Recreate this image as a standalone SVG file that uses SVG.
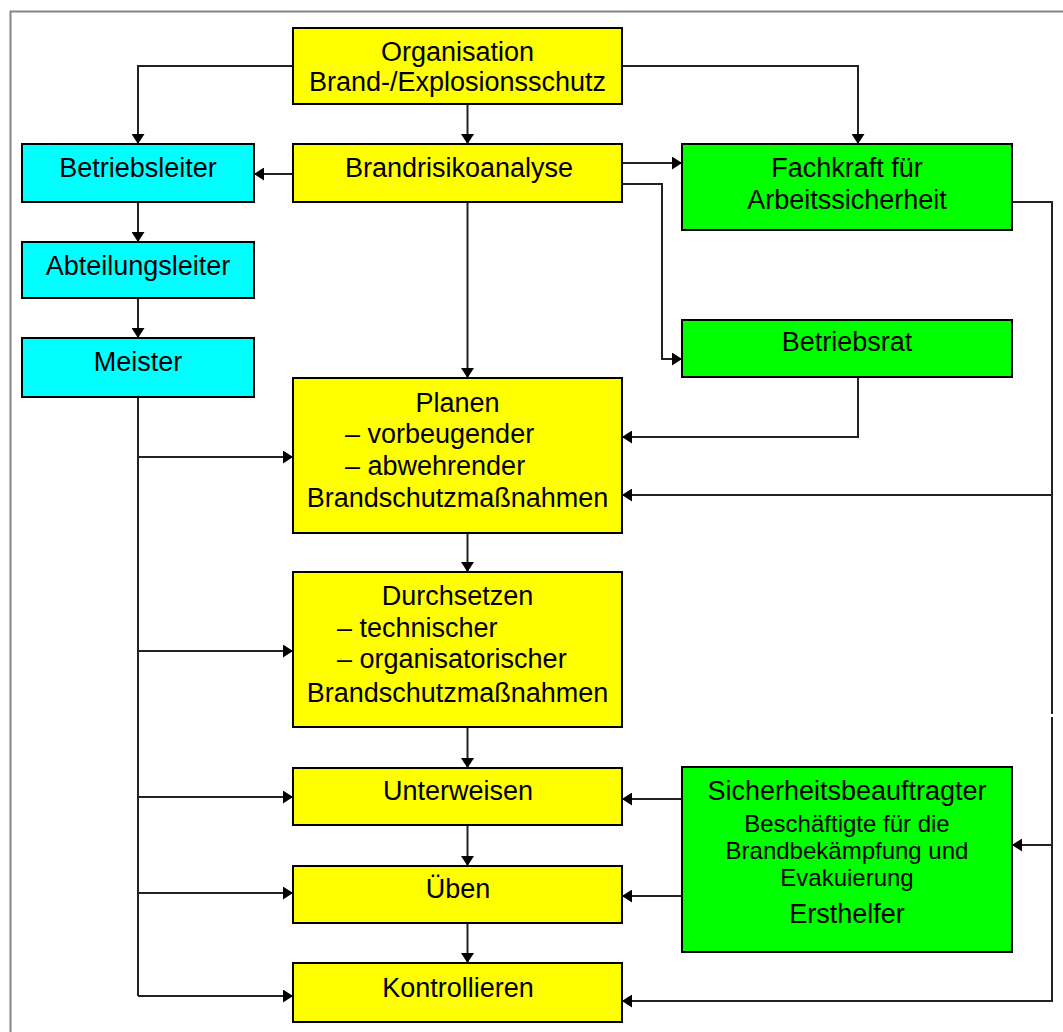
<svg xmlns="http://www.w3.org/2000/svg" width="1063" height="1032" viewBox="0 0 1063 1032">
<defs>
<marker id="ah" markerUnits="userSpaceOnUse" markerWidth="10" markerHeight="13" refX="10" refY="6.5" orient="auto">
<path d="M0,0 L10,6.5 L0,13 z" fill="#000"/>
</marker>
<style>
.box{stroke:#000;stroke-width:2}
.y{fill:#ffff00}
.c{fill:#00ffff}
.g{fill:#00ff00}
text{font-family:"Liberation Sans",Arial,sans-serif;font-size:27px;fill:#000}
.m{text-anchor:middle}
.s{font-size:24px}
.con path{fill:none;stroke:#222;stroke-width:2}
.arr{marker-end:url(#ah)}
</style>
</defs>
<rect width="1063" height="1032" fill="#fff"/>
<path d="M10.5,1032 V11.5 H1063" fill="none" stroke="#858585" stroke-width="2"/>

<g class="con">
<path class="arr" d="M293,66 H138 V144"/>
<path class="arr" d="M622,66 H858 V144"/>
<path class="arr" d="M467.5,104 V144"/>
<path class="arr" d="M293,174 H254"/>
<path class="arr" d="M622,163 H682"/>
<path class="arr" d="M622,184 H662 V359 H682"/>
<path class="arr" d="M138,202 V242"/>
<path class="arr" d="M138,298 V338"/>
<path d="M138,397 V996"/>
<path class="arr" d="M138,457 H293"/>
<path class="arr" d="M138,651 H293"/>
<path class="arr" d="M138,797 H293"/>
<path class="arr" d="M138,893 H293"/>
<path class="arr" d="M138,996 H293"/>
<path class="arr" d="M467.5,202 V378"/>
<path class="arr" d="M467.5,533 V572"/>
<path class="arr" d="M467.5,727 V768"/>
<path class="arr" d="M467.5,825 V866"/>
<path class="arr" d="M467.5,923 V963"/>
<path class="arr" d="M858,377 V437 H622"/>
<path d="M1012,202 H1052 V714"/>
<path class="arr" d="M1052,717 V1001 H622"/>
<path class="arr" d="M1052,495 H622"/>
<path class="arr" d="M1052,845 H1012"/>
<path class="arr" d="M682,799 H622"/>
<path class="arr" d="M682,896 H622"/>
</g>

<g id="organisation">
<rect class="box y" x="293" y="28" width="329" height="76"/>
<text class="m" x="457.5" y="61">Organisation</text>
<text class="m" x="457.5" y="91">Brand-/Explosionsschutz</text>
</g>
<g id="betriebsleiter">
<rect class="box c" x="22" y="144" width="232" height="58"/>
<text class="m" x="138" y="177">Betriebsleiter</text>
</g>
<g id="abteilungsleiter">
<rect class="box c" x="22" y="242" width="232" height="56"/>
<text class="m" x="138" y="275">Abteilungsleiter</text>
</g>
<g id="meister">
<rect class="box c" x="22" y="338" width="232" height="59"/>
<text class="m" x="138" y="371">Meister</text>
</g>
<g id="brandrisikoanalyse">
<rect class="box y" x="293" y="144" width="329" height="58"/>
<text class="m" x="459" y="177">Brandrisikoanalyse</text>
</g>
<g id="fachkraft">
<rect class="box g" x="682" y="144" width="330" height="86"/>
<text class="m" x="847" y="177">Fachkraft für</text>
<text class="m" x="847" y="209">Arbeitssicherheit</text>
</g>
<g id="betriebsrat">
<rect class="box g" x="682" y="320" width="330" height="57"/>
<text class="m" x="847" y="351">Betriebsrat</text>
</g>
<g id="planen">
<rect class="box y" x="293" y="378" width="329" height="155"/>
<text class="m" x="457.5" y="412">Planen</text>
<text x="345" y="443">– vorbeugender</text>
<text x="345" y="475">– abwehrender</text>
<text class="m" x="457.5" y="507">Brandschutzmaßnahmen</text>
</g>
<g id="durchsetzen">
<rect class="box y" x="293" y="572" width="329" height="155"/>
<text class="m" x="457.5" y="605">Durchsetzen</text>
<text x="337" y="637">– technischer</text>
<text x="337" y="668">– organisatorischer</text>
<text class="m" x="457.5" y="702">Brandschutzmaßnahmen</text>
</g>
<g id="unterweisen">
<rect class="box y" x="293" y="768" width="329" height="57"/>
<text class="m" x="458" y="800">Unterweisen</text>
</g>
<g id="ueben">
<rect class="box y" x="293" y="866" width="329" height="57"/>
<text class="m" x="458" y="898">Üben</text>
</g>
<g id="kontrollieren">
<rect class="box y" x="293" y="963" width="329" height="59"/>
<text class="m" x="458" y="997">Kontrollieren</text>
</g>
<g id="sicherheitsbeauftragter">
<rect class="box g" x="682" y="767" width="330" height="185"/>
<text class="m" x="847" y="800">Sicherheitsbeauftragter</text>
<text class="m s" x="847" y="832">Beschäftigte für die</text>
<text class="m s" x="847" y="859">Brandbekämpfung und</text>
<text class="m s" x="847" y="886">Evakuierung</text>
<text class="m" x="847" y="923">Ersthelfer</text>
</g>
</svg>
